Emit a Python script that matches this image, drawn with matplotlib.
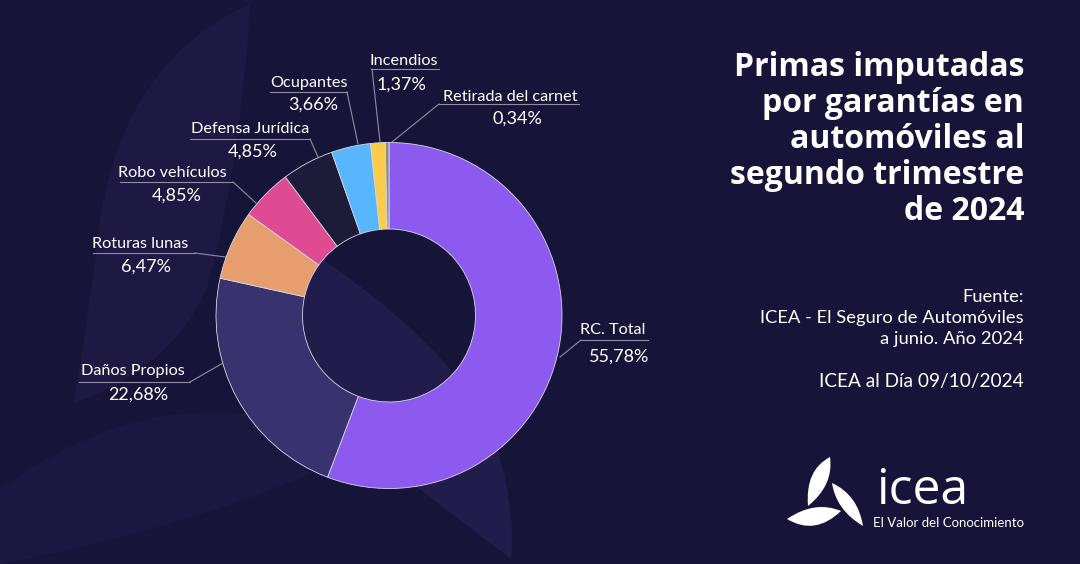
#!/usr/bin/env python3

import matplotlib
matplotlib.use("Agg")
import matplotlib.pyplot as plt
from matplotlib.patches import PathPatch
from matplotlib.path import Path

# data
categories = ["RC. Total", "Daños Propios", "Roturas lunas", "Robo vehículos",
              "Defensa Jurídica", "Ocupantes", "Incendios", "Retirada del carnet"]
values = [55.78, 22.68, 6.47, 4.85, 4.85, 3.66, 1.37, 0.34]
value_labels = ["55,78%", "22,68%", "6,47%", "4,85%", "4,85%", "3,66%", "1,37%", "0,34%"]
colors = ["#8C5AEF", "#38326E", "#E79E6E", "#DF4B93", "#1C1B38", "#58B6FF", "#FBCB4A", "#8A8A8A"]

title_lines = ["Primas imputadas", "por garantías en", "automóviles al",
               "segundo trimestre", "de 2024"]
source_lines = ["Fuente:", "ICEA - El Seguro de Automóviles", "a junio. Año 2024"]

BG = "#17143A"
LINE = "#8F8DA3"
FONT = "Lato"

fig = plt.figure(figsize=(10.8, 5.64), dpi=100, facecolor=BG)
ax = fig.add_axes([0, 0, 1, 1])
ax.set_facecolor(BG)


def fy(y):
    # picture y runs downwards, axes y upwards
    return 564 - y


def shape(points, color, zorder=1):
    # points: start, then (ctrl, end) pairs of quadratic curves
    verts = [(points[0][0], fy(points[0][1]))]
    codes = [Path.MOVETO]
    for p in points[1:]:
        verts.append((p[0], fy(p[1])))
        codes.append(Path.CURVE3)
    ax.add_patch(PathPatch(Path(verts, codes), fc=color, ec="none", zorder=zorder))


# background leaves
shape([(250, 4), (125, 60), (100, 220), (88, 320), (74, 403),
       (170, 370), (207, 288), (242, 154), (250, 4)], "#1D1942")
shape([(0, 490), (120, 400), (248, 414), (350, 440), (320, 470),
       (180, 530), (0, 564), (0, 525), (0, 490)], "#1B1740")
shape([(318, 256), (470, 360), (498, 450), (515, 510), (511, 559),
       (460, 520), (417, 487), (250, 380), (318, 256)], "#211C4A")

# donut
ax.pie(values, colors=colors, startangle=90, counterclock=False,
       center=(389, fy(315.5)), radius=173, frame=True,
       wedgeprops=dict(width=86.5, edgecolor="#D9D7E6", linewidth=0.6, zorder=3))
ax.set_xlim(0, 1080)
ax.set_ylim(0, 564)
ax.set_aspect("auto")
ax.axis("off")

# label positions: text x, text y, value x, value y, underline x0, x1, y, anchor, slice end
label_pos = {
    "RC. Total": (613, 330, 619, 357, 581, 648, 340, 581, (560, 357)),
    "Daños Propios": (133, 371, 138, 395, 79, 190, 382, 190, (223, 363)),
    "Roturas lunas": (140, 244, 146, 267, 93, 195, 253, 195, (225.5, 257)),
    "Robo vehículos": (172, 173, 177, 196, 120, 233, 182, 233, (256, 203)),
    "Defensa Jurídica": (250, 129, 253, 152, 190, 310, 139, 310, (318, 157)),
    "Ocupantes": (309, 83, 313, 105, 270, 347, 92, 347, (358, 144)),
    "Incendios": (404, 61, 401, 85, 371, 439, 69, 372, (380, 142)),
    "Retirada del carnet": (510, 97, 517, 119, 439, 579, 104, 439, (392, 142)),
}
for name, val in zip(categories, value_labels):
    tx, ty, vx, vy, x0, x1, uy, ax0, end = label_pos[name]
    ax.text(tx, fy(ty), name, color="white", fontsize=11.7, family=FONT,
            ha="center", va="center", zorder=5)
    ax.text(vx, fy(vy), val, color="white", fontsize=13, family=FONT,
            ha="center", va="center", zorder=5)
    ax.plot([x0, x1], [fy(uy), fy(uy)], color=LINE, lw=0.8, zorder=4)
    ax.plot([ax0, end[0]], [fy(uy), fy(end[1])], color=LINE, lw=0.8, zorder=4)

# title
for line, y in zip(title_lines, [67, 103, 140, 176, 212]):
    ax.text(1024, fy(y), line, color="white", fontsize=23, family="Open Sans",
            fontweight="bold", ha="right", va="center", zorder=5)

# source
for line, y in zip(source_lines, [297, 318, 339]):
    ax.text(1024, fy(y), line, color="white", fontsize=13.2, family=FONT,
            ha="right", va="center", zorder=5)
ax.text(1024, fy(381), "ICEA al Día 09/10/2024", color="white", fontsize=13.7,
        family=FONT, ha="right", va="center", zorder=5)

# logo
shape([(830, 457), (805, 470), (808, 506), (834, 485), (830, 457)], "white", 5)
shape([(832, 483), (858, 495), (863, 526), (836, 510), (832, 483)], "white", 5)
shape([(787, 519), (815, 500), (841, 511), (815, 536), (787, 519)], "white", 5)
ax.text(922, fy(504), "icea", color="white", fontsize=36, family="Open Sans",
        ha="center", va="baseline", zorder=5)
ax.text(1024, fy(523), "El Valor del Conocimiento", color="white", fontsize=9.5,
        family=FONT, ha="right", va="center", zorder=5)

fig.savefig("out.png", dpi=100, facecolor=BG)
